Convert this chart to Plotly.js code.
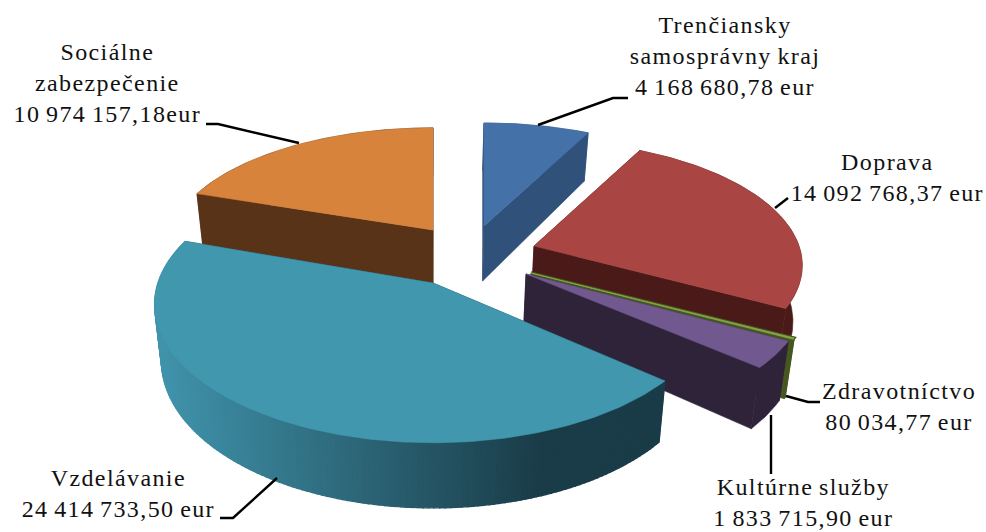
<!DOCTYPE html>
<html><head><meta charset="utf-8">
<script src="https://cdn.plot.ly/plotly-3.0.1.min.js"></script>
<style>html,body{margin:0;padding:0;background:#fff}.annotation text{letter-spacing:1.4px;word-spacing:-1.7px}</style>
</head><body><div id="chart" style="width:986px;height:532px"></div>
<script>
// data, clockwise from north
const categories = ["Trenčiansky samosprávny kraj","Doprava","Zdravotníctvo","Kultúrne služby","Vzdelávanie","Sociálne zabezpečenie"];
const values = [4168680.78,14092768.37,80034.77,1833715.90,24414733.50,10974157.18];
const labelTexts = [
 "Trenčiansky<br>samosprávny kraj<br>4 168 680,78 eur",
 "Doprava<br>14 092 768,37 eur",
 "Zdravotníctvo<br>80 034,77 eur",
 "Kultúrne služby<br>1 833 715,90 eur",
 "Vzdelávanie<br>24 414 733,50 eur",
 "Sociálne<br>zabezpečenie<br>10 974 157,18eur"];
const labelX = [725,887,899,803,118,107];
const labelY = [56,177,406,502,493,83];
const topColors = ["#4472a8","#a94543","#8aa64c","#71588f","#4097ae","#d8833c"];
const wallColors = ["#30527a","#4a1a18","#46581f","#2e2339","#1a3c48","#583317"];
// exploded apex of every slice and its projected radii (pixel space)
const apexX = [484,534,531,526,433,433];
const apexY = [226,246,273,274,283,230];
const radiusX = [261,265,277,277,275,262];
const radiusY = [119,122,127,129,135,118];
const leaders = [
 [[538,125],[613,98],[628,98]],
 [[775,208],[788,198]],
 [[786,396],[808,402],[820,402]],
 [[771,415],[771,474]],
 [[277,478],[233,518],[220,518]],
 [[206,124],[218,124],[299,143]]];
const drawOrder = [5,0,1,2,3,4];
const persp = 0.155, depth = 55, vanishX = 430, taper = 0.025;

const total = values.reduce((a,b)=>a+b,0);
let acc = 0;
const starts = [], ends = [];
values.forEach(v=>{starts.push(acc/total*2*Math.PI);acc+=v;ends.push(acc/total*2*Math.PI);});

function rim(i,t){
  const u=Math.sin(t), v=Math.cos(t), w=1+persp*v;
  return [apexX[i]+radiusX[i]*u/w, apexY[i]-radiusY[i]*v/w, w];
}
function low(p,w){
  return [p[0]+(vanishX-p[0])*taper, p[1]+depth/w];
}
function apexTop(i){return [apexX[i],apexY[i],1];}
function poly(pts,fill,width){
  return {type:"scatter",mode:"lines",x:pts.map(p=>p[0]),y:pts.map(p=>p[1]),fill:"toself",
    fillcolor:fill,line:{color:fill,width:width===undefined?0.6:width},hoverinfo:"skip",showlegend:false};
}
function radialWall(i,t,color){
  const a=apexTop(i), r=rim(i,t);
  return poly([a,r,low(r,r[2]),low(a,1),a],color);
}
function mix(a,b,f){
  const h=s=>[1,3,5].map(k=>parseInt(s.substr(k,2),16));
  const A=h(a),B=h(b);
  return "rgb("+A.map((c,k)=>Math.round(c+(B[k]-c)*f)).join(",")+")";
}
const traces=[];
drawOrder.forEach(i=>{
  traces.push(radialWall(i,starts[i],wallColors[i]));
  traces.push(radialWall(i,ends[i],wallColors[i]));
  const span=ends[i]-starts[i];
  const steps=Math.max(4,Math.round(span/(Math.PI/180)));
  const arc=[];
  for(let s=0;s<=steps;s++) arc.push(rim(i,starts[i]+span*s/steps));
  if(i===4){
    // shaded outer wall of the largest slice, fine strips so no band shows
    for(let s=0;s<steps;s++){
      const a=arc[s], b=arc[s+1];
      const f=Math.max(0,Math.min(1,((a[0]+b[0])/2-160)/(540-160)));
      traces.push(poly([a,b,low(b,b[2]),low(a,a[2]),a],mix("#4093ab","#1a3c48",f),1.4));
    }
  } else {
    const lower=arc.map(p=>low(p,p[2])).reverse();
    traces.push(poly(arc.concat(lower,[arc[0]]),wallColors[i],i===2?1.2:0.6));
  }
  const top=[apexTop(i)].concat(arc,[apexTop(i)]);
  if(i===2) traces.push(poly(top,wallColors[i],3));
  traces.push(poly(top,topColors[i],i===2?0.8:0.6));
});
const shapes=leaders.map(l=>({type:"path",xref:"x",yref:"y",
  path:"M"+l.map(p=>p[0]+","+p[1]).join("L"),line:{color:"#000",width:2.4},layer:"above"}));
const annotations=labelTexts.map((t,i)=>({text:t,x:labelX[i],y:labelY[i],xref:"x",yref:"y",
  xanchor:"center",yanchor:"middle",align:"center",showarrow:false,
  font:{family:"Liberation Serif",size:24,color:"#111"}}));
Plotly.newPlot("chart",traces,{
  width:986,height:532,margin:{l:0,r:0,t:0,b:0},paper_bgcolor:"#fff",plot_bgcolor:"#fff",
  xaxis:{range:[0,986],visible:false,fixedrange:true},
  yaxis:{range:[532,0],visible:false,fixedrange:true},
  shapes,annotations,showlegend:false
},{displayModeBar:false,staticPlot:true});
</script></body></html>
